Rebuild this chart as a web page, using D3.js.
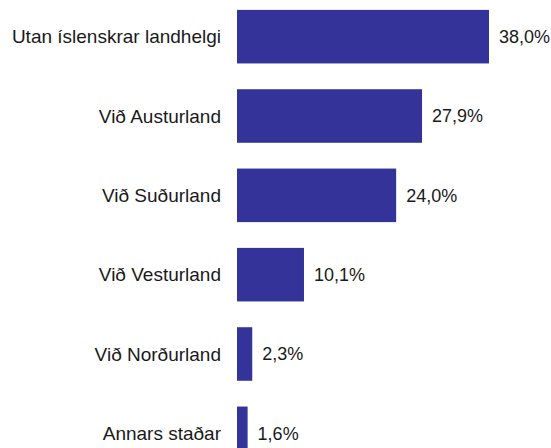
<!DOCTYPE html>
<html>
<head>
<meta charset="utf-8">
<script src="https://cdn.jsdelivr.net/npm/d3@7"></script>
<style>
  body { margin: 0; background: #fff; }
  text { font-family: "Liberation Sans", Arial, sans-serif; fill: #1a1a1a; }
  .cat text { font-size: 19px; }
  text.value { font-size: 18px; }
</style>
</head>
<body>
<div class="canvas"></div>
<script>
// Data
const categories = [
    'Utan íslenskrar landhelgi',
    'Við Austurland',
    'Við Suðurland',
    'Við Vesturland',
    'Við Norðurland',
    'Annars staðar'
];
const values = [38.0, 27.9, 24.0, 10.1, 2.3, 1.6];

const fmt = v => d3.format('.1f')(v).replace('.', ',') + '%';

// SVG parameters
const
    width = 551,
    height = 448,
    barLeft = 237;

const svg = d3.select('.canvas')
    .append('svg')
    .attr('width', width)
    .attr('height', height);

const xScale = d3.scaleLinear()
    .domain([0, 38])
    .range([barLeft, barLeft + 252]);

const yScale = d3.scaleBand()
    .domain(categories)
    .range([-3, 473])
    .paddingInner(0.325)
    .paddingOuter(0.1625);

// Bars
svg.selectAll('rect')
    .data(values)
    .enter()
    .append('rect')
    .attr('x', xScale(0))
    .attr('y', (d, i) => yScale(categories[i]))
    .attr('width', d => xScale(d) - xScale(0))
    .attr('height', yScale.bandwidth())
    .attr('fill', '#333399');

// Category labels
const yAxis = d3.axisLeft(yScale).tickSize(0).tickPadding(16);
svg.append('g')
    .attr('class', 'cat')
    .attr('transform', `translate(${barLeft}, 0)`)
    .call(yAxis)
    .call(g => g.select('.domain').remove())
    .call(g => g.selectAll('text')
        .attr('font-family', null)
        .attr('font-size', null)
        .attr('fill', null)
        .attr('dy', '0.35em'));

// Value labels
svg.selectAll('text.value')
    .data(values)
    .enter()
    .append('text')
    .attr('class', 'value')
    .attr('x', d => xScale(d) + 10)
    .attr('y', (d, i) => yScale(categories[i]) + yScale.bandwidth() / 2)
    .attr('dy', '0.35em')
    .text(d => fmt(d));
</script>
</body>
</html>
